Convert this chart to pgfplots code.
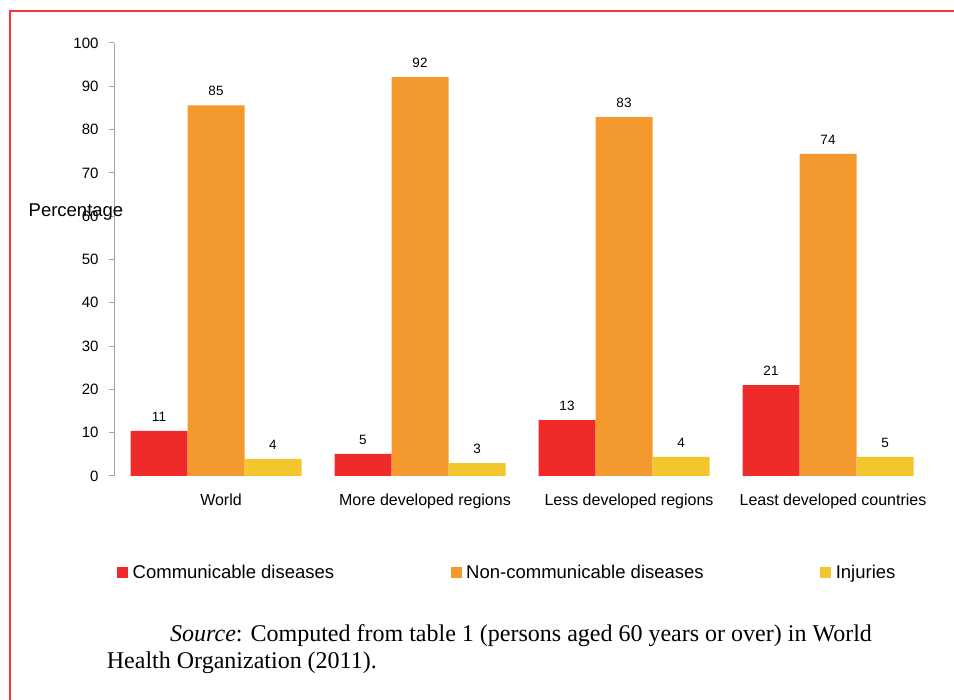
\documentclass[border=0pt]{standalone}
\usepackage{pgfplots}
\pgfplotsset{compat=1.18}
\usepackage{fontspec}
\setmainfont{Liberation Sans}
\newfontfamily\serifrm{Liberation Serif}
\definecolor{cRed}{RGB}{238,43,42}
\definecolor{cOrange}{RGB}{243,153,46}
\definecolor{cYellow}{RGB}{244,198,46}
\definecolor{frameRed}{RGB}{250,55,55}
\definecolor{axGray}{RGB}{165,165,165}
\begin{document}
\begin{tikzpicture}
\path[use as bounding box] (0,0) rectangle (954bp,700bp);
\draw[frameRed, line width=2.2bp] (10bp,0) -- (10bp,689bp) -- (954bp,689bp);
\begin{axis}[
  at={(114bp,224bp)}, anchor=south west,
  scale only axis, width=816bp, height=433bp,
  ybar=0pt, bar width=57bp,
  xmin=-0.5, xmax=3.5, ymin=0, ymax=100,
  ytick={0,10,...,100},
  xtick={0,1,2,3},
  xticklabels={World, More developed regions, Less developed regions, Least developed countries},
  axis lines*=left,
  x axis line style={draw=none},
  y axis line style={draw=axGray, line width=1bp},
  xtick style={draw=none},
  ytick style={draw=axGray, line width=1bp},
  tick align=outside,
  major tick length=5bp,
  /pgf/number format/assume math mode=true,
  yticklabel style={font=\fontsize{15bp}{18bp}\selectfont, xshift=-7bp},
  xticklabel style={font=\fontsize{16bp}{19bp}\selectfont, yshift=-9bp, xshift=5bp},
  nodes near coords,
  point meta=explicit symbolic,
  every node near coord/.append style={font=\fontsize{13.5bp}{16bp}\selectfont, yshift=6bp, black},
  clip=false,
  legend columns=3,
  legend style={at={(axis description cs:0.0037,-0.2240)}, anchor=west, draw=none, inner sep=0pt,
    font=\fontsize{18.5bp}{22bp}\selectfont,
    /tikz/every even column/.append style={column sep=114.5bp},
    nodes={inner sep=2bp}},
  legend image code/.code={\fill[#1] (0bp,-5.5bp) rectangle (11bp,5.5bp);},
]
\addplot[fill=cRed, draw=none] coordinates {(0,10.4)[11] (1,5.1)[5] (2,12.9)[13] (3,21.0)[21]};
\addplot[fill=cOrange, draw=none] coordinates {(0,85.6)[85] (1,92.1)[92] (2,82.9)[83] (3,74.4)[74]};
\addplot[fill=cYellow, draw=none] coordinates {(0,3.9)[4] (1,3.0)[3] (2,4.4)[4] (3,4.4)[5]};
\legend{\hspace{2.5bp}Communicable diseases, \hspace{2.5bp}Non-communicable diseases, \hspace{2.5bp}Injuries}
\node[font=\fontsize{18.5bp}{22bp}\selectfont] at (axis description cs:-0.0466,0.609) {Percentage};
\end{axis}
\node[anchor=base west, font=\serifrm\fontsize{24bp}{28bp}\selectfont, inner sep=0pt] at (170bp,58.3bp) {\textit{Source}: Computed from table 1 (persons aged 60 years or over) in World};
\node[anchor=base west, font=\serifrm\fontsize{24bp}{28bp}\selectfont, inner sep=0pt] at (106.7bp,31.7bp) {Health Organization (2011).};
\end{tikzpicture}
\end{document}
